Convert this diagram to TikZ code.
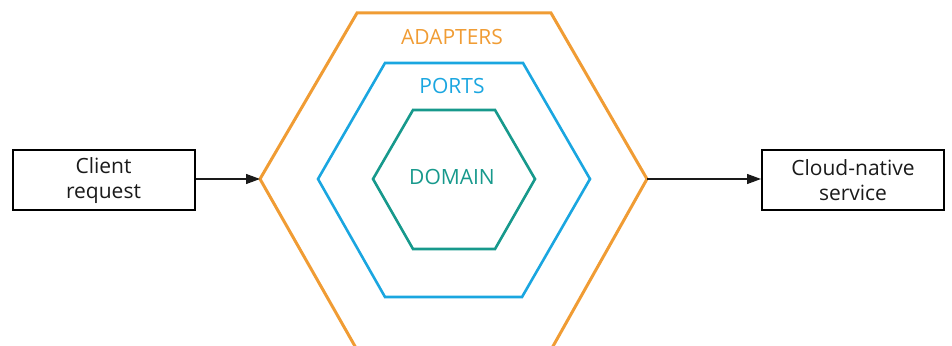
\documentclass[tikz,border=0pt]{standalone}
\usepackage{fontspec}
\setmainfont{Open Sans}
\usetikzlibrary{arrows.meta}
\definecolor{adapt}{HTML}{F09C34}
\definecolor{portc}{HTML}{1AA6E0}
\definecolor{domc}{HTML}{17998C}
\definecolor{txt}{HTML}{1A1A1A}
\tikzset{
  box/.style={draw=black, line width=2pt, minimum width=182pt, minimum height=60pt, inner sep=0pt, align=center, font=\fontsize{21}{25}\selectfont, text=txt},
  hexo/.style={draw=adapt, line width=3pt, line join=miter},
  hexp/.style={draw=portc, line width=2.6pt, line join=miter},
  hexd/.style={draw=domc, line width=2.6pt, line join=miter},
  lbl/.style={font=\fontsize{21}{24}\selectfont, inner sep=0pt},
  conn/.style={draw=txt, line width=1.1pt, -{Triangle[length=14pt,width=10pt]}}
}
\begin{document}
\begin{tikzpicture}[x=1pt,y=1pt]
\useasboundingbox (0,0) rectangle (952,345);
% outer hexagon (adapters)
\coordinate (oL) at (260,166);
\coordinate (oR) at (647,166);
\draw[hexo] (oL) -- (357,332) -- (551,332) -- (oR) -- (552,-3) -- (356,-3) -- cycle;
% ports
\draw[hexp] (318,166) -- (385,282) -- (523,282) -- (590,166) -- (522,48) -- (385,48) -- cycle;
% domain
\draw[hexd] (373,166) -- (413,235) -- (495,235) -- (535,166) -- (495,96) -- (413,96) -- cycle;
% labels
\node[lbl, text=adapt] (ad) at (452,308) {ADAPTERS};
\node[lbl, text=portc] (po) at (452,259) {PORTS};
\node[lbl, text=domc] (do) at (452,168) {DOMAIN};
% boxes
\node[box] (client) at (103.5,164.5) {Client\\request};
\node[box] (cloud) at (853,164.5) {Cloud-native\\service};
% connectors
\draw[conn] (client.east |- oL) -- (oL);
\draw[conn] (oR) -- (cloud.west |- oR);
\end{tikzpicture}
\end{document}
